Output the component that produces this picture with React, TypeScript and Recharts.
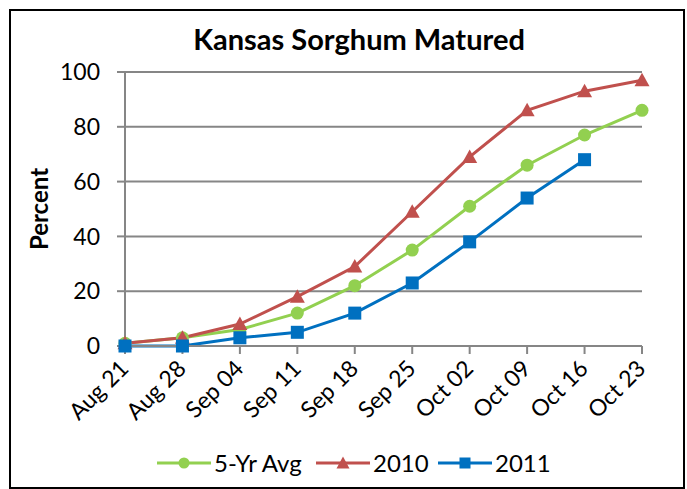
import React from "react"
import { LineChart, Line, XAxis, YAxis, CartesianGrid } from "recharts"

const weeks = ["Aug 21", "Aug 28", "Sep 04", "Sep 11", "Sep 18", "Sep 25", "Oct 02", "Oct 09", "Oct 16", "Oct 23"]
const avg5 = [1, 3, 6, 12, 22, 35, 51, 66, 77, 86]
const y2010 = [1, 3, 8, 18, 29, 49, 69, 86, 93, 97]
const y2011: (number | null)[] = [0, 0, 3, 5, 12, 23, 38, 54, 68, null]
const yTicks = [0, 20, 40, 60, 80, 100]

const GREEN = "#92D050"
const RED = "#C0504D"
const BLUE = "#0070C0"
const FONT = "Lato, 'Open Sans', sans-serif"

const data = weeks.map((w, i) => ({ week: w, avg: avg5[i], y2010: y2010[i], y2011: y2011[i] }))

// eslint-disable-next-line @typescript-eslint/no-explicit-any
const Marker = (kind: string, color: string) => (props: any) => {
  const { cx, cy, index } = props
  if (cx == null || cy == null || props.value == null) return <g key={index} />
  if (kind === "circle") return <circle key={index} cx={cx} cy={cy} r={6.5} fill={color} />
  if (kind === "tri")
    return <polygon key={index} points={`${cx},${cy - 7.5} ${cx + 7.5},${cy + 6} ${cx - 7.5},${cy + 6}`} fill={color} />
  return <rect key={index} x={cx - 6.5} y={cy - 6.5} width={13} height={13} fill={color} />
}

// eslint-disable-next-line @typescript-eslint/no-explicit-any
const XTick = ({ x, y, payload }: any) => (
  <text
    x={x + 5}
    y={y + 14}
    textAnchor="end"
    transform={`rotate(-45 ${x + 5} ${y + 14})`}
    fontSize={23}
    fontFamily={FONT}
    fill="#000"
  >
    {payload.value}
  </text>
)

const LegendItem = ({ color, kind, label, left }: { color: string; kind: string; label: string; left: number }) => (
  <div style={{ position: "absolute", left, top: 448, display: "flex", alignItems: "center" }}>
    <svg width={54} height={16}>
      <line x1={0} y1={8} x2={54} y2={8} stroke={color} strokeWidth={3} />
      {kind === "circle" && <circle cx={27} cy={8} r={5.5} fill={color} />}
      {kind === "tri" && <polygon points="27,1.5 33.5,13.5 20.5,13.5" fill={color} />}
      {kind === "sq" && <rect x={21.5} y={2.5} width={11} height={11} fill={color} />}
    </svg>
    <span style={{ marginLeft: 3, fontSize: 24, fontFamily: FONT }}>{label}</span>
  </div>
)

export default function App() {
  return (
    <div style={{ position: "absolute", left: 0, top: 0, width: 687, height: 489, background: "#fff" }}>
      <div style={{ position: "absolute", left: 9, top: 9, width: 672, height: 476, border: "2px solid #000" }} />
      <div
        style={{
          position: "absolute",
          left: 0,
          width: 718,
          top: 21,
          textAlign: "center",
          fontFamily: FONT,
          fontWeight: 700,
          fontSize: 29,
        }}
      >
        Kansas Sorghum Matured
      </div>
      <div
        style={{
          position: "absolute",
          left: 38,
          top: 209,
          transform: "translate(-50%, -50%) rotate(-90deg)",
          fontFamily: FONT,
          fontWeight: 700,
          fontSize: 24,
          whiteSpace: "nowrap",
        }}
      >
        Percent
      </div>
      <div style={{ position: "absolute", left: 0, top: 0 }}>
        <LineChart width={687} height={489} data={data} margin={{ top: 72, right: 45, left: 0, bottom: 0 }}>
          <CartesianGrid vertical={false} stroke="#868686" strokeWidth={2} />
          <XAxis
            dataKey="week"
            interval={0}
            padding={{ left: 0, right: 0 }}
            height={143}
            tickSize={8}
            stroke="#868686"
            strokeWidth={2}
            tick={<XTick />}
          />
          <YAxis
            domain={[0, 100]}
            ticks={yTicks}
            width={125}
            tickSize={8}
            tickMargin={17}
            stroke="#868686"
            strokeWidth={2}
            tick={{ fill: "#000", fontSize: 23, fontFamily: FONT }}
          />
          <Line dataKey="avg" stroke={GREEN} strokeWidth={3} dot={Marker("circle", GREEN)} isAnimationActive={false} />
          <Line dataKey="y2010" stroke={RED} strokeWidth={3} dot={Marker("tri", RED)} isAnimationActive={false} />
          <Line dataKey="y2011" stroke={BLUE} strokeWidth={3} dot={Marker("sq", BLUE)} isAnimationActive={false} />
        </LineChart>
      </div>
      <LegendItem color={GREEN} kind="circle" label="5-Yr Avg" left={157} />
      <LegendItem color={RED} kind="tri" label="2010" left={316} />
      <LegendItem color={BLUE} kind="sq" label="2011" left={438} />
    </div>
  )
}
